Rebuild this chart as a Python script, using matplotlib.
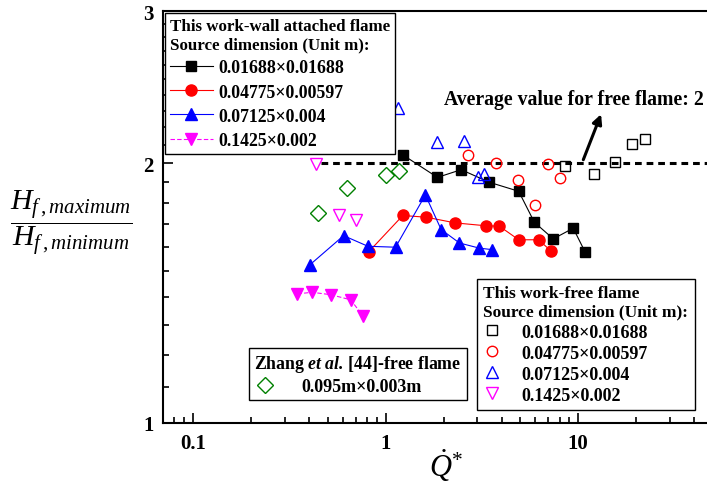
import matplotlib
matplotlib.use("Agg")
import matplotlib.pyplot as plt
from matplotlib.ticker import FixedLocator, NullFormatter, FixedFormatter

plt.rcParams['font.family'] = ['Liberation Serif', 'DejaVu Serif']
plt.rcParams['mathtext.fontset'] = 'custom'
plt.rcParams['mathtext.rm'] = 'Liberation Serif'
plt.rcParams['mathtext.it'] = 'Liberation Serif:italic'
plt.rcParams['mathtext.bf'] = 'Liberation Serif:bold'
plt.rcParams['mathtext.bfit'] = 'Liberation Serif:bold:italic'

# wall attached flame (filled markers, this work)
wall_sq_x = [1.23, 1.86, 2.47, 3.46, 4.91, 5.92, 7.42, 9.42, 10.87]
wall_sq_y = [2.044, 1.925, 1.965, 1.90, 1.855, 1.708, 1.634, 1.681, 1.577]
wall_ci_x = [0.819, 1.229, 1.63, 2.30, 3.32, 3.90, 4.91, 6.23, 7.22]
wall_ci_y = [1.579, 1.739, 1.731, 1.705, 1.692, 1.690, 1.630, 1.630, 1.582]
wall_tr_x = [0.404, 0.606, 0.81, 1.127, 1.61, 1.944, 2.42, 3.07, 3.55]
wall_tr_y = [1.524, 1.648, 1.602, 1.598, 1.837, 1.675, 1.616, 1.594, 1.588]
wall_dt_x = [0.349, 0.415, 0.519, 0.659, 0.763]
wall_dt_y = [1.411, 1.417, 1.408, 1.389, 1.331]

# free flame (open markers, this work)
free_sq_x = [8.57, 12.06, 15.45, 18.93, 22.3]
free_sq_y = [1.985, 1.945, 2.006, 2.103, 2.132]
free_ci_x = [2.68, 3.76, 4.85, 5.94, 6.97, 8.07]
free_ci_y = [2.044, 2.0, 1.913, 1.789, 1.997, 1.923]
free_tr_x = [1.158, 1.86, 2.545, 3.03, 3.23]
free_tr_y = [2.314, 2.114, 2.121, 1.925, 1.943]
free_dt_x = [0.4375, 0.573, 0.705]
free_dt_y = [1.995, 1.739, 1.718]

# Zhang et al. [44]
zhang_x = [0.446, 0.634, 1.008, 1.172]
zhang_y = [1.75, 1.871, 1.939, 1.957]

labels = ['0.01688\u00d70.01688', '0.04775\u00d70.00597', '0.07125\u00d70.004', '0.1425\u00d70.002']

fig = plt.figure(figsize=(7.07, 4.89), dpi=100)
ax = fig.add_axes([163 / 707, 65 / 489, 544 / 707, 412 / 489])
ax.set_xscale('log')
ax.set_yscale('log')
ax.set_xlim(0.07, 46.6)
ax.set_ylim(1, 3)

# average line
ax.plot([0.465, 46.6], [2, 2], 'k--', lw=2.2, dashes=(2.2, 1.6), zorder=1)

h1, = ax.plot(wall_sq_x, wall_sq_y, '-', color='k', lw=0.8, marker='s', ms=7.5, mfc='k', mec='k')
h2, = ax.plot(wall_ci_x, wall_ci_y, '-', color='red', lw=0.8, marker='o', ms=8, mfc='red', mec='red')
h3, = ax.plot(wall_tr_x, wall_tr_y, '-', color='blue', lw=0.8, marker='^', ms=8.5, mfc='blue', mec='blue')
h4, = ax.plot(wall_dt_x, wall_dt_y, '--', color='magenta', lw=0.8, dashes=(4, 2), marker='v', ms=8.5, mfc='magenta', mec='magenta')

o1, = ax.plot(free_sq_x, free_sq_y, 's', ms=6.5, mfc='none', mec='k', mew=1)
o2, = ax.plot(free_ci_x, free_ci_y, 'o', ms=7.5, mfc='none', mec='red', mew=1)
o3, = ax.plot(free_tr_x, free_tr_y, '^', ms=8.5, mfc='none', mec='blue', mew=1)
o4, = ax.plot(free_dt_x, free_dt_y, 'v', ms=8.5, mfc='none', mec='magenta', mew=1)

z1, = ax.plot(zhang_x, zhang_y, 'D', ms=8.5, mfc='none', mec='green', mew=1)

ax.annotate('', xy=(13.3, 2.294), xytext=(10.5, 2.004),
            arrowprops=dict(arrowstyle='-|>', color='k', lw=2.2, mutation_scale=14))
ax.text(2.02, 2.372, 'Average value for free flame: 2', fontsize=14.2,
        fontweight='bold', va='center', ha='left', clip_on=False)

# ticks
ax.xaxis.set_major_locator(FixedLocator([0.1, 1, 10]))
ax.xaxis.set_major_formatter(FixedFormatter(['0.1', '1', '10']))
xminor = [0.08, 0.09] + [i * 0.1 for i in range(2, 10)] + list(range(2, 10)) + [20, 30, 40]
ax.xaxis.set_minor_locator(FixedLocator(xminor))
ax.xaxis.set_minor_formatter(NullFormatter())
ax.yaxis.set_major_locator(FixedLocator([1, 2, 3]))
ax.yaxis.set_major_formatter(FixedFormatter(['1', '2', '3']))
yminor = [1 + i / 10 for i in range(1, 10)] + [2 + i / 10 for i in range(1, 10)]
ax.yaxis.set_minor_locator(FixedLocator(yminor))
ax.yaxis.set_minor_formatter(NullFormatter())
ax.tick_params(which='both', direction='in', width=1.2, top=False, right=False)
ax.tick_params(which='major', length=7, labelsize=15, pad=7)
ax.tick_params(which='minor', length=4)
for lab in ax.get_xticklabels() + ax.get_yticklabels():
    lab.set_fontweight('bold')
for s in ['left', 'bottom', 'top']:
    ax.spines[s].set_linewidth(1.5)
ax.spines['right'].set_visible(False)

leg_kw = dict(frameon=True, fancybox=False, framealpha=1, edgecolor='k',
              borderaxespad=0, alignment='left')

leg1 = ax.legend([h1, h2, h3, h4], labels, loc='upper left', fontsize=12.8,
                 bbox_to_anchor=(165 / 707, 1 - 14 / 489), bbox_transform=fig.transFigure,
                 title='This work-wall attached flame\nSource dimension (Unit m):',
                 title_fontproperties={'weight': 'bold', 'size': 12.2},
                 borderpad=0.28, handlelength=2.4, handletextpad=0.35, labelspacing=0.4, **leg_kw)
for t in leg1.get_texts():
    t.set_fontweight('bold')
leg1.get_frame().set_linewidth(1)
ax.add_artist(leg1)

leg2 = ax.legend([o1, o2, o3, o4], labels, loc='upper left', fontsize=13,
                 bbox_to_anchor=(477 / 707, 1 - 280 / 489), bbox_transform=fig.transFigure,
                 title='This work-free flame\nSource dimension (Unit m):',
                 title_fontproperties={'weight': 'bold', 'size': 12.5},
                 borderpad=0.35, handlelength=1.0, handletextpad=1.1, labelspacing=0.22, **leg_kw)
for t in leg2.get_texts():
    t.set_fontweight('bold')
leg2.get_frame().set_linewidth(1)
ax.add_artist(leg2)

leg3 = ax.legend([z1], ['0.095m\u00d70.003m'], loc='upper left', fontsize=13,
                 bbox_to_anchor=(249 / 707, 1 - 349 / 489), bbox_transform=fig.transFigure,
                 title=r'Zhang $\mathbfit{et\ al.}\,$[44]-free flame',
                 title_fontproperties={'weight': 'bold', 'size': 12.8},
                 borderpad=0.3, handlelength=1.2, handletextpad=1.4, labelspacing=0.2, **leg_kw)
for t in leg3.get_texts():
    t.set_fontweight('bold')
leg3.get_frame().set_linewidth(1)

# axis labels
fig.text(71 / 707, 1 - 223 / 489, r'$\dfrac{H_{f\,,maximum}}{H_{f\,,minimum}}$',
         fontsize=21.5, ha='center', va='center')
fig.text(446 / 707, 1 - 466 / 489, r'$\dot{Q}^{*}$', fontsize=22, ha='center', va='center')

fig.savefig('out.png', dpi=100)
